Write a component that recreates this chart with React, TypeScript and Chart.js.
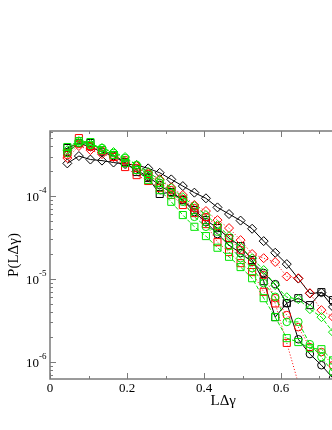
import { useEffect, useRef } from 'react';
import { Chart, registerables } from 'chart.js';

Chart.register(...registerables);

// Bin centres (LΔγ)
const xs = [0.045, 0.075, 0.105, 0.135, 0.165, 0.195, 0.225, 0.255, 0.285, 0.315, 0.345, 0.375, 0.405,
  0.435, 0.465, 0.495, 0.525, 0.555, 0.585, 0.615, 0.645, 0.675, 0.705, 0.735, 0.765];

// Black series (solid lines)
const blackDiamond = [2.48e-4, 3.04e-4, 2.76e-4, 2.68e-4, 2.54e-4, 2.43e-4, 2.37e-4, 2.16e-4, 1.91e-4, 1.59e-4,
  1.32e-4, 1.10e-4, 9.4e-5, 7.3e-5, 6.07e-5, 5.06e-5, 4.03e-5, 2.86e-5, 2.07e-5, 1.51e-5, 1.01e-5, 6.68e-6,
  6.84e-6, 4.6e-6, 3.36e-6];
const blackCircle = [3.40e-4, 4.37e-4, 3.91e-4, 3.40e-4, 3.04e-4, 2.50e-4, 2.06e-4, 1.70e-4, 1.36e-4, 1.09e-4,
  8.95e-5, 6.41e-5, 4.85e-5, 3.48e-5, 2.56e-5, 2.05e-5, 1.6e-5, 1.18e-5, 8.65e-6, 5.1e-6, 1.87e-6, 1.24e-6,
  9.1e-7, 6.34e-7];
const blackSquare = [3.80e-4, 4.37e-4, 4.37e-4, 3.59e-4, 3.13e-4, 2.57e-4, 1.95e-4, 1.65e-4, 1.06e-4, 1.12e-4,
  8.95e-5, 6.78e-5, 5.13e-5, 4.11e-5, 3.11e-5, 2.49e-5, 1.69e-5, 9.4e-6, 3.46e-6, 5.1e-6, 5.86e-6, 4.83e-6,
  6.93e-6, 5.55e-6];

// Red series (dotted lines)
const redDiamond = [2.88e-4, 4.02e-4, 3.59e-4, 3.21e-4, 2.96e-4, 2.57e-4, 2.30e-4, 1.90e-4, 1.60e-4, 1.28e-4,
  1.03e-4, 7.8e-5, 6.6e-5, 5.13e-5, 4.11e-5, 2.94e-5, 2.0e-5, 1.78e-5, 1.6e-5, 1.07e-5, 1.02e-5, 6.74e-6,
  4.2e-6, 3.46e-6, 2.41e-6];
const redCircle = [3.13e-4, 4.25e-4, 3.91e-4, 3.49e-4, 3.13e-4, 2.72e-4, 2.18e-4, 1.84e-4, 1.44e-4, 1.18e-4,
  9.2e-5, 7.16e-5, 5.57e-5, 4.34e-5, 3.11e-5, 2.23e-5, 1.6e-5, 1.11e-5, 5.86e-6, 3.66e-6, 2.62e-6, 1.5e-6,
  1.31e-6, 9.1e-7];
const redSquare = [3.31e-4, 5.01e-4, 4.02e-4, 3.59e-4, 2.96e-4, 2.24e-4, 1.79e-4, 1.52e-4, 1.25e-4, 1.03e-4,
  7.8e-5, 6.23e-5, 4.59e-5, 2.78e-5, 2.11e-5, 1.55e-5, 1.21e-5, 6.99e-6, 5.06e-6, 1.69e-6, 5.5e-7];

// Green series (dashed lines)
const greenDiamond = [3.59e-4, 4.61e-4, 4.25e-4, 3.80e-4, 3.40e-4, 2.96e-4, 2.37e-4, 1.95e-4, 1.56e-4, 1.25e-4,
  9.7e-5, 7.57e-5, 5.9e-5, 4.47e-5, 3.29e-5, 2.42e-5, 1.78e-5, 1.28e-5, 8.4e-6, 6.02e-6, 5.7e-6, 4.32e-6,
  3.46e-6, 2.28e-6, 1.59e-6];
const greenCircle = [3.31e-4, 4.37e-4, 4.13e-4, 3.80e-4, 3.31e-4, 2.88e-4, 2.37e-4, 1.79e-4, 1.44e-4, 1.09e-4,
  8.53e-5, 5.62e-5, 4.26e-5, 3.71e-5, 2.49e-5, 1.78e-5, 1.35e-5, 8.9e-6, 6.08e-6, 3.03e-6, 3.03e-6, 1.63e-6,
  1.14e-6, 7.5e-7];
const greenSquare = [3.91e-4, 4.61e-4, 4.49e-4, 3.59e-4, 3.13e-4, 2.50e-4, 2.06e-4, 1.56e-4, 1.18e-4, 8.53e-5,
  5.9e-5, 4.26e-5, 3.29e-5, 2.38e-5, 1.85e-5, 1.39e-5, 1.02e-5, 5.86e-6, 3.46e-6, 1.93e-6, 1.73e-6, 1.46e-6,
  1.42e-6, 1.04e-6];

// Axis ticks
const xMajorTicks = [0, 0.2, 0.4, 0.6, 0.8];
const xTickLabels = ['0', '0.2', '0.4', '0.6', '0.8'];
const xMinorTicks = [0.1, 0.3, 0.5, 0.7, 0.9];
const yMajorTicks = [1e-6, 1e-5, 1e-4];
const yTickExponents = ['-6', '-5', '-4'];
const xTitle = 'LΔγ';
const yTitle = 'P(LΔγ)';

const X_MIN = 0, X_MAX = 0.9, Y_MIN = 6.2e-7, Y_MAX = 6.1e-4;
const SERIF = '"Liberation Serif", "Times New Roman", serif';

const BLACK = '#000000';
const RED = '#ff0000';
const GREEN = '#00e600';

function pts(vals: number[]) {
  return vals.map((y, i) => ({ x: xs[i], y }));
}

function ds(label: string, vals: number[], color: string, style: string, radius: number, dash: number[]) {
  return {
    label,
    data: pts(vals),
    borderColor: color,
    borderWidth: 1,
    borderDash: dash,
    backgroundColor: 'rgba(0,0,0,0)',
    pointStyle: style,
    pointRadius: radius,
    pointBorderColor: color,
    pointBackgroundColor: 'rgba(0,0,0,0)',
    pointBorderWidth: 1,
    tension: 0,
    fill: false,
  };
}

const framePlugin = {
  id: 'frame',
  afterDatasetsDraw(chart: any) {
    const { ctx, chartArea: a, scales } = chart;
    const x = scales.x, y = scales.y;
    ctx.save();
    ctx.strokeStyle = '#7a7a7a';
    ctx.lineWidth = 1.5;
    ctx.strokeRect(a.left, a.top, a.right - a.left, a.bottom - a.top);
    ctx.lineWidth = 1;
    ctx.beginPath();
    const xt = (v: number, len: number) => {
      const px = Math.round(x.getPixelForValue(v)) + 0.5;
      ctx.moveTo(px, a.bottom); ctx.lineTo(px, a.bottom - len);
      ctx.moveTo(px, a.top); ctx.lineTo(px, a.top + len);
    };
    xMajorTicks.forEach((v) => xt(v, 6));
    xMinorTicks.forEach((v) => xt(v, 3));
    for (let e = -7; e <= -3; e++) {
      for (let k = 1; k <= 9; k++) {
        const v = k * Math.pow(10, e);
        if (v < Y_MIN || v > Y_MAX) continue;
        const py = Math.round(y.getPixelForValue(v)) + 0.5;
        const len = k === 1 ? 6 : 3;
        ctx.moveTo(a.left, py); ctx.lineTo(a.left + len, py);
        ctx.moveTo(a.right, py); ctx.lineTo(a.right - len, py);
      }
    }
    ctx.stroke();

    ctx.fillStyle = '#000';
    ctx.font = `13px ${SERIF}`;
    ctx.textAlign = 'center';
    ctx.textBaseline = 'middle';
    xMajorTicks.forEach((v, i) => {
      ctx.fillText(xTickLabels[i], x.getPixelForValue(v), a.bottom + 9.5);
    });

    yMajorTicks.forEach((v, i) => {
      const py = y.getPixelForValue(v);
      ctx.font = `9px ${SERIF}`;
      ctx.textAlign = 'right';
      const sup = yTickExponents[i];
      const w = ctx.measureText(sup).width;
      const rx = a.left - 3.5;
      ctx.fillText(sup, rx, py - 5);
      ctx.font = `13px ${SERIF}`;
      ctx.fillText('10', rx - w, py + 2);
    });

    ctx.font = `15px ${SERIF}`;
    ctx.textAlign = 'center';
    ctx.fillText(xTitle, (a.left + a.right) / 2, a.bottom + 22);
    ctx.save();
    ctx.translate(a.left - 36, (a.top + a.bottom) / 2);
    ctx.rotate(-Math.PI / 2);
    ctx.fillText(yTitle, 0, 0);
    ctx.restore();
    ctx.restore();
  },
};

export default function App() {
  const ref = useRef<HTMLCanvasElement | null>(null);
  useEffect(() => {
    if (!ref.current) return;
    const prevOverflow = document.body.style.overflow;
    document.body.style.overflow = 'hidden';
    const chart = new Chart(ref.current, {
      type: 'line',
      data: {
        datasets: [
          ds('green diamond', greenDiamond, GREEN, 'rectRot', 4.5, [4, 2]),
          ds('green circle', greenCircle, GREEN, 'circle', 3.8, [4, 2]),
          ds('green square', greenSquare, GREEN, 'rect', 5, [4, 2]),
          ds('red diamond', redDiamond, RED, 'rectRot', 4.5, [1, 2]),
          ds('red circle', redCircle, RED, 'circle', 3.8, [1, 2]),
          ds('red square', redSquare, RED, 'rect', 5, [1, 2]),
          ds('black diamond', blackDiamond, BLACK, 'rectRot', 4.5, []),
          ds('black circle', blackCircle, BLACK, 'circle', 3.8, []),
          ds('black square', blackSquare, BLACK, 'rect', 5, []),
        ] as any,
      },
      options: {
        animation: false,
        responsive: false,
        devicePixelRatio: 1,
        layout: { padding: { left: 42, top: 123, right: 51.5, bottom: 43 } },
        plugins: { legend: { display: false }, tooltip: { enabled: false } },
        scales: {
          x: { type: 'linear', min: X_MIN, max: X_MAX, display: false },
          y: { type: 'logarithmic', min: Y_MIN, max: Y_MAX, display: false },
        },
      } as any,
      plugins: [framePlugin],
    });
    return () => {
      chart.destroy();
      document.body.style.overflow = prevOverflow;
    };
  }, []);
  return (
    <div style={{ position: 'fixed', left: 8, top: 8, width: 324, height: 414, overflow: 'hidden' }}>
      <canvas ref={ref} width={440} height={414} style={{ display: 'block' }} />
    </div>
  );
}
